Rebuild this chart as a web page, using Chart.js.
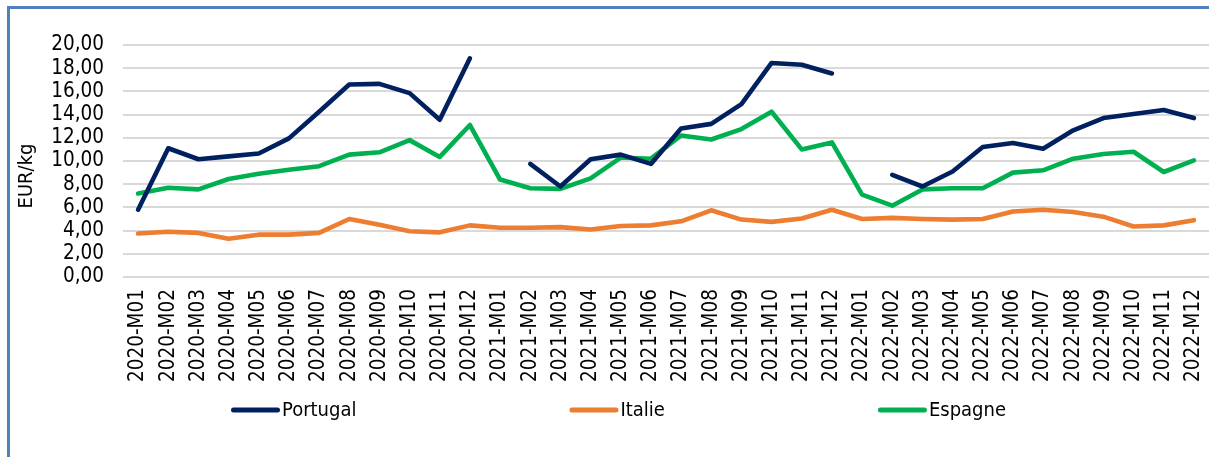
<!DOCTYPE html>
<html><head><meta charset="utf-8">
<script src="https://cdn.jsdelivr.net/npm/chart.js@4.4.1/dist/chart.umd.min.js"></script>
<style>
html,body{margin:0;padding:0;background:#fff;overflow:hidden}
#frame{position:absolute;left:7px;top:6px;width:1300px;height:600px;border-left:3px solid #4f81bd;border-top:3px solid #4f81bd;box-sizing:border-box}
#wrap{position:absolute;left:0;top:0;width:1209px;height:457px}
</style></head><body>
<div id="frame"></div>
<div id="wrap"><canvas id="c"></canvas></div>
<script>
const categories = ['2020-M01','2020-M02','2020-M03','2020-M04','2020-M05','2020-M06','2020-M07','2020-M08','2020-M09','2020-M10','2020-M11','2020-M12',
  '2021-M01','2021-M02','2021-M03','2021-M04','2021-M05','2021-M06','2021-M07','2021-M08','2021-M09','2021-M10','2021-M11','2021-M12',
  '2022-M01','2022-M02','2022-M03','2022-M04','2022-M05','2022-M06','2022-M07','2022-M08','2022-M09','2022-M10','2022-M11','2022-M12'];
const portugal = [5.8, 11.1, 10.15, 10.4, 10.65, 11.95, 14.25, 16.6, 16.65, 15.85, 13.55, 18.85,
  null, 9.75, 7.8, 10.15, 10.55, 9.75, 12.8, 13.2, 14.9, 18.45, 18.3, 17.55,
  null, 8.8, 7.8, 9.1, 11.2, 11.55, 11.05, 12.65, 13.7, 14.05, 14.4, 13.7];
const italie = [3.75, 3.9, 3.8, 3.3, 3.65, 3.65, 3.8, 5.0, 4.5, 3.95, 3.85, 4.45,
  4.25, 4.25, 4.3, 4.1, 4.4, 4.45, 4.8, 5.75, 4.95, 4.75, 5.05, 5.8,
  5.0, 5.1, 5.0, 4.95, 5.0, 5.65, 5.8, 5.6, 5.2, 4.35, 4.45, 4.9];
const espagne = [7.2, 7.7, 7.55, 8.45, 8.9, 9.25, 9.55, 10.55, 10.75, 11.8, 10.35, 13.1,
  8.4, 7.65, 7.6, 8.5, 10.3, 10.2, 12.2, 11.85, 12.75, 14.25, 11.0, 11.6,
  7.1, 6.15, 7.55, 7.65, 7.65, 9.0, 9.2, 10.2, 10.6, 10.8, 9.05, 10.05];
const seriesNames = ['Portugal', 'Italie', 'Espagne'];
const yMin = 0, yMax = 20, yStep = 2;
const yTitle = 'EUR/kg';

const FONT = "'DejaVu Sans Condensed', 'DejaVu Sans', sans-serif";
const colors = ['#002060', '#ED7D31', '#00B050'];

const legendPlugin = {
  id: 'lineLegend',
  afterDraw(chart) {
    const ctx = chart.ctx;
    ctx.save();
    ctx.font = '20px ' + FONT;
    ctx.textBaseline = 'middle';
    ctx.textAlign = 'left';
    let x = 231;
    const y = 410;
    chart.data.datasets.forEach(ds => {
      ctx.strokeStyle = ds.borderColor;
      ctx.lineWidth = 5;
      ctx.lineCap = 'round';
      ctx.beginPath();
      ctx.moveTo(x + 2.5, y);
      ctx.lineTo(x + 46.5, y);
      ctx.stroke();
      ctx.fillStyle = '#000';
      ctx.fillText(ds.label, x + 51, y + 1);
      x += 51 + ctx.measureText(ds.label).width + 213;
    });
    ctx.restore();
  }
};
const yTitlePlugin = {
  id: 'yTitle',
  afterDraw(chart) {
    const ctx = chart.ctx;
    ctx.save();
    ctx.font = '20px ' + FONT;
    ctx.fillStyle = '#000';
    ctx.textAlign = 'center';
    ctx.textBaseline = 'middle';
    ctx.translate(27, 176);
    ctx.rotate(-Math.PI / 2);
    ctx.fillText(yTitle, 0, 0);
    ctx.restore();
  }
};

new Chart(document.getElementById('c'), {
  type: 'line',
  data: {
    labels: categories,
    datasets: [portugal, italie, espagne].map((d, i) => ({
      label: seriesNames[i],
      data: d,
      borderColor: colors[i],
      backgroundColor: colors[i],
      borderWidth: 4.6,
      borderCapStyle: 'round',
      borderJoinStyle: 'round',
      pointRadius: 0,
      pointHoverRadius: 0,
      tension: 0,
      spanGaps: false,
      fill: false
    }))
  },
  options: {
    responsive: true,
    maintainAspectRatio: false,
    animation: false,
    devicePixelRatio: 1,
    layout: { padding: { top: 45, right: 0, bottom: 50, left: 0 } },
    plugins: { legend: { display: false }, tooltip: { enabled: false } },
    scales: {
      x: {
        type: 'category',
        offset: true,
        grid: { display: false, drawTicks: false },
        border: { display: false },
        ticks: {
          autoSkip: false, minRotation: 90, maxRotation: 90, padding: 12,
          color: '#000', font: { family: FONT, size: 20.5 }
        },
        afterFit(s) { s.height = 130; s.paddingLeft = 0; s.paddingRight = 0; }
      },
      y: {
        min: yMin, max: yMax,
        grid: { color: '#d9d9d9', lineWidth: 2, drawTicks: false },
        border: { display: false },
        ticks: {
          stepSize: yStep, autoSkip: false, padding: 19, color: '#000',
          font: { family: FONT, size: 20.5, lineHeight: 1 },
          callback: v => v.toFixed(2).replace('.', ',')
        },
        afterFit(s) { s.width = 123; }
      }
    }
  },
  plugins: [legendPlugin, yTitlePlugin]
});
</script>
</body></html>
